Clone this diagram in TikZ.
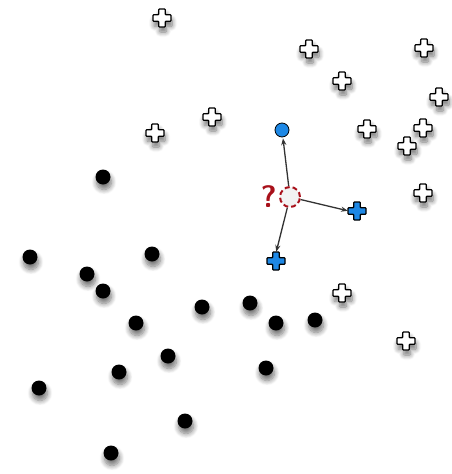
\documentclass[tikz,border=0pt]{standalone}
\usepackage{xcolor}
\usepackage{tikz}
\usetikzlibrary{arrows.meta,shadows.blur}
\definecolor{dotblue}{HTML}{1E88E5}
\definecolor{qred}{HTML}{A8101A}
\definecolor{arrowgray}{HTML}{333333}

\begin{document}
\begin{tikzpicture}[
  x=1pt, y=-1pt,
  spot/.style={circle, inner sep=0pt, minimum size=16pt},
  softshadow/.style={blur shadow={shadow xshift=1pt, shadow yshift=-5pt, shadow blur radius=5pt, shadow blur steps=8, shadow opacity=55}},
  blackdot/.style={circle, fill=black, inner sep=0pt, minimum size=15pt, softshadow},
  bluedot/.style={circle, draw=black, line width=0.8pt, fill=dotblue, inner sep=0pt, minimum size=14pt},
  query/.style={circle, draw=qred, dash pattern=on 5pt off 3pt, line width=2pt, fill=gray!10, inner sep=0pt, minimum size=20pt},
  arrow/.style={-{Stealth[length=2.4mm,width=1.8mm]}, line width=1.3pt, draw=arrowgray, shorten >=1pt},
  plusshape/.style={rounded corners=0.8pt, line width=1.3pt, draw=black},
  plus/.pic={
    \draw[plusshape, pic actions]
      (-3.3,-9) -- (3.3,-9) -- (3.3,-3.3) -- (9,-3.3) -- (9,3.3) -- (3.3,3.3)
      -- (3.3,9) -- (-3.3,9) -- (-3.3,3.3) -- (-9,3.3) -- (-9,-3.3) -- (-3.3,-3.3) -- cycle;
  },
  whiteplus/.pic={
    \draw[plusshape, fill=white, softshadow]
      (-3.3,-9) -- (3.3,-9) -- (3.3,-3.3) -- (9,-3.3) -- (9,3.3) -- (3.3,3.3)
      -- (3.3,9) -- (-3.3,9) -- (-3.3,3.3) -- (-9,3.3) -- (-9,-3.3) -- (-3.3,-3.3) -- cycle;
  }
]
\useasboundingbox (0,0) rectangle (452,474);

% White crosses
\foreach \p [count=\i] in {(162,18),(309,49),(424,48),(342,81),(439,97),(212,117),(155,133),(367,129),(423,128),(407,146),(423,193),(342,293),(406,341)}
  \node[spot] (w\i) at \p {};
\foreach \i in {1,...,13}
  \pic at (w\i) {whiteplus};

% Black dots
\foreach \p [count=\i] in {(103,177),(30,257),(87,274),(103,291),(152,254),(136,323),(202,307),(250,303),(276,323),(315,320),(168,356),(119,372),(39,388),(266,368),(185,421),(111,453)}
  \node[blackdot] (k\i) at \p {};

% Query point and its nearest neighbours
\node[bluedot] (nn1) at (282,130) {};
\node[spot] (nn2) at (357,211) {};
\node[spot] (nn3) at (276,261) {};
\pic[fill=dotblue] at (nn2) {plus};
\pic[fill=dotblue] at (nn3) {plus};
\node[query] (q) at (290,197) {};
\node[text=qred, font=\sffamily\bfseries\fontsize{31}{31}\selectfont, inner sep=0pt, left=2pt] (qmark) at (q.west) {?};

% Connections
\draw[arrow] (q) -- (nn1);
\draw[arrow] (q) -- (nn2.west);
\draw[arrow] (q) -- (nn3.north);
\end{tikzpicture}
\end{document}
